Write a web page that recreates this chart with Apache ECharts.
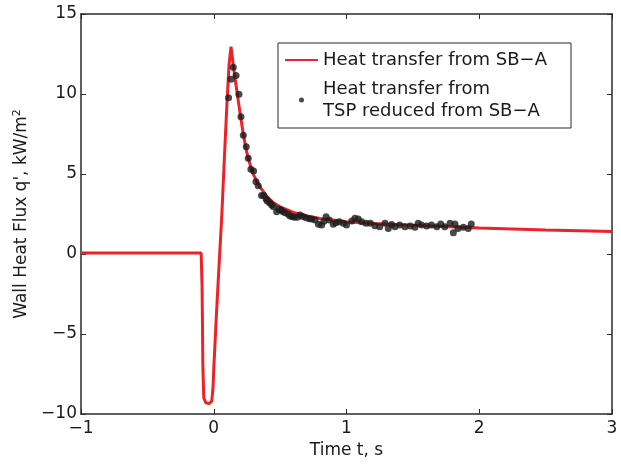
<!DOCTYPE html>
<html><head><meta charset="utf-8">
<script src="https://cdn.jsdelivr.net/npm/echarts@6/dist/echarts.min.js"></script>
<style>html,body{margin:0;padding:0;background:#fff}#c{width:621px;height:466px}</style>
</head><body><div id="c"></div>
<script>
const redT = [-1, -0.5, -0.095, -0.088, -0.082, -0.075, -0.06, -0.035, -0.015, -0.005, 0.0, 0.02, 0.04, 0.06, 0.08, 0.1, 0.115, 0.13, 0.14, 0.15, 0.173, 0.2, 0.223, 0.25, 0.28, 0.3, 0.33, 0.36, 0.4, 0.45, 0.5, 0.6, 0.7, 0.8, 1.0, 1.2, 1.5, 2.0, 2.5, 3.0];
const redQ = [0.06, 0.06, 0.06, -2, -7, -9.0, -9.3, -9.35, -9.2, -8.3, -7.2, -3.8, -0.7, 2.3, 6, 9.5, 11.8, 12.96, 12.3, 11.6, 10.25, 8.7, 7.45, 6.3, 5.4, 4.95, 4.45, 4.05, 3.6, 3.2, 2.95, 2.6, 2.38, 2.22, 2.02, 1.9, 1.8, 1.62, 1.5, 1.4];
const dotT = [0.112, 0.13, 0.147, 0.168, 0.19, 0.205, 0.223, 0.245, 0.26, 0.28, 0.30, 0.318, 0.335, 0.36, 0.376, 0.394, 0.403, 0.42, 0.436, 0.45, 0.474, 0.49, 0.507, 0.52, 0.537, 0.56, 0.574, 0.59, 0.607, 0.63, 0.65, 0.67, 0.695, 0.72, 0.738, 0.763, 0.788, 0.813, 0.83, 0.846, 0.87, 0.9, 0.92, 0.946, 0.976, 1.0, 1.04, 1.064, 1.089, 1.114, 1.147, 1.18, 1.215, 1.25, 1.29, 1.315, 1.34, 1.365, 1.40, 1.44, 1.48, 1.516, 1.54, 1.566, 1.604, 1.64, 1.68, 1.71, 1.74, 1.78, 1.805, 1.817, 1.84, 1.88, 1.917, 1.94];
const dotQ = [9.77, 10.92, 11.67, 11.15, 9.98, 8.58, 7.42, 6.71, 5.98, 5.29, 5.19, 4.52, 4.27, 3.65, 3.65, 3.44, 3.31, 3.2, 3.06, 2.95, 2.64, 2.8, 2.75, 2.65, 2.58, 2.5, 2.38, 2.35, 2.29, 2.3, 2.44, 2.35, 2.27, 2.2, 2.19, 2.13, 1.86, 1.81, 2.05, 2.33, 2.13, 1.86, 1.95, 2.02, 1.92, 1.81, 2.06, 2.23, 2.19, 2.02, 1.92, 1.92, 1.77, 1.71, 1.92, 1.6, 1.85, 1.71, 1.81, 1.71, 1.75, 1.67, 1.92, 1.81, 1.75, 1.81, 1.71, 1.875, 1.71, 1.92, 1.33, 1.875, 1.6, 1.67, 1.6, 1.875];
const nameRed = 'Heat transfer from SB\u2212A';
const nameDot = 'Heat transfer from\nTSP reduced from SB\u2212A';

const FONT = '"DejaVu Sans", sans-serif';
const chart = echarts.init(document.getElementById('c'), null, {renderer: 'canvas'});
const axLine = {show: true, onZero: false, lineStyle: {color: '#2b2b2b', width: 1.5}};
const axTick = {show: true, inside: true, length: 5, lineStyle: {color: '#2b2b2b', width: 1}};
const fmt = v => (v < 0 ? '\u2212' + Math.abs(v) : String(v));
chart.setOption({
  animation: false,
  backgroundColor: '#fff',
  grid: {left: 81, right: 9, top: 14, bottom: 52, containLabel: false},
  xAxis: [{
    type: 'value', min: -1, max: 3, interval: 1, position: 'bottom',
    axisLine: axLine, axisTick: axTick, splitLine: {show: false},
    axisLabel: {fontFamily: FONT, fontSize: 17, color: '#1a1a1a', margin: 6, formatter: fmt},
    name: 'Time t, s', nameLocation: 'middle', nameGap: 27,
    nameTextStyle: {fontFamily: FONT, fontSize: 17, color: '#1a1a1a'}
  }, {
    type: 'value', min: -1, max: 3, interval: 1, position: 'top',
    axisLine: axLine, axisTick: axTick, splitLine: {show: false}, axisLabel: {show: false}
  }],
  yAxis: [{
    type: 'value', min: -10, max: 15, interval: 5, position: 'left',
    axisLine: axLine, axisTick: axTick, splitLine: {show: false},
    axisLabel: {fontFamily: FONT, fontSize: 17, color: '#1a1a1a', margin: 4, formatter: fmt},
    name: "Wall Heat Flux q', kW/m{sup|2}", nameLocation: 'middle', nameGap: 42, nameRotate: 90,
    nameTextStyle: {fontFamily: FONT, fontSize: 17, color: '#1a1a1a',
      rich: {sup: {fontFamily: FONT, fontSize: 11, color: '#1a1a1a', verticalAlign: 'top', padding: [0, 0, 9, 0]}}}
  }, {
    type: 'value', min: -10, max: 15, interval: 5, position: 'right',
    axisLine: axLine, axisTick: axTick, splitLine: {show: false}, axisLabel: {show: false}
  }],
  legend: {
    orient: 'vertical', left: 278, top: 43,
    padding: [6, 24, 6, 7], itemGap: 7,
    borderColor: '#2b2b2b', borderWidth: 1, backgroundColor: '#fff',
    itemWidth: 33, itemHeight: 5,
    textStyle: {fontFamily: FONT, fontSize: 18, color: '#1a1a1a', lineHeight: 22},
    data: [{name: nameRed, icon: 'path://M0,0H33V2H0Z'}, {name: nameDot, icon: 'circle'}]
  },
  series: [{
    name: nameRed, type: 'line', symbol: 'none', z: 2,
    lineStyle: {color: '#ec2227', width: 3},
    itemStyle: {color: '#ec2227'},
    data: redT.map((t, i) => [t, redQ[i]])
  }, {
    name: nameDot, type: 'scatter', symbol: 'circle', symbolSize: 7, z: 3,
    itemStyle: {color: '#1c1c1c'},
    data: dotT.map((t, i) => [t, dotQ[i]])
  }]
});
</script></body></html>
